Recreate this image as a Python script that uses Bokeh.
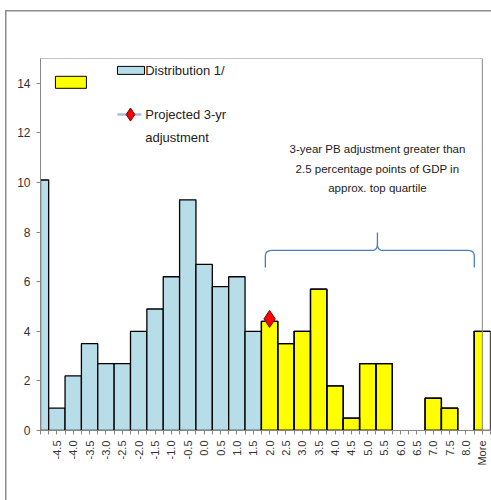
import math
from bokeh.plotting import figure
from bokeh.models import (ColumnDataSource, FixedTicker, Label, Range1d, Span)
from bokeh.embed import file_html
from bokeh.resources import INLINE

# ---------------- data ----------------
categories = ["-5.0", "-4.5", "-4.0", "-3.5", "-3.0", "-2.5", "-2.0", "-1.5", "-1.0",
              "-0.5", "0.0", "0.5", "1.0", "1.5", "2.0", "2.5", "3.0", "3.5", "4.0",
              "4.5", "5.0", "5.5", "6.0", "6.5", "7.0", "7.5", "8.0", "More"]
tick_labels = ["", "-4.5", "-4.0", "-3.5", "-3.0", "-2.5", "-2.0", "-1.5", "-1.0",
               "-0.5", "0.0", "0.5", "1.0", "1.5", "2.0", "2.5", "3.0", "3.5", "4.0",
               "4.5", "5.0", "5.5", "6.0", "6.5", "7.0", "7.5", "8.0", "More"]
distribution = [10.1, 0.9, 2.2, 3.5, 2.7, 2.7, 4.0, 4.9, 6.2, 9.3, 6.7, 5.8, 6.2, 4.0]
top_quartile = [4.4, 3.5, 4.0, 5.7, 1.8, 0.5, 2.7, 2.7, 0.0, 0.0, 1.3, 0.9, 0.0, 4.0]
projected_category = "2.0"
projected_value = 4.5
y_ticks = [0, 2, 4, 6, 8, 10, 12, 14]
note_lines = ["3-year PB adjustment greater than",
              "2.5 percentage points of GDP in",
              "approx. top quartile"]

FONT = "Liberation Sans"
BLUE_FILL = "#B7DDE8"
YELLOW = "#FFFF00"
AXIS_GRAY = "#868686"
BRACE = "#4A7EBB"
BORDER = "#8C8C8C"

n = len(categories)
last = n - 1
blue_idx = list(range(len(distribution)))
yellow_idx = list(range(len(distribution), len(distribution) + len(top_quartile)))

blue_src = ColumnDataSource(dict(x=[i for i, v in zip(blue_idx, distribution) if v > 0],
                                 top=[v for v in distribution if v > 0]))
yel_src = ColumnDataSource(dict(x=[i for i, v in zip(yellow_idx, top_quartile) if v > 0],
                                top=[v for v in top_quartile if v > 0]))

p = figure(width=491, height=500, output_backend="svg", toolbar_location=None,
           x_range=Range1d(0, last + 0.5), y_range=Range1d(0, 15),
           min_border_left=40, min_border_right=1, min_border_top=58, min_border_bottom=70)
p.xgrid.visible = False
p.ygrid.visible = False
p.outline_line_color = None
p.background_fill_color = "white"
p.border_fill_color = None
p.styles = {
    "background": (f"linear-gradient({BORDER},{BORDER}) 5px 10px / 1.5px 100% no-repeat, "
                   f"linear-gradient({BORDER},{BORDER}) 5px 10px / 100% 1.5px no-repeat, white"),
}

p.vbar(x="x", top="top", width=1.0, source=blue_src, fill_color=BLUE_FILL,
       line_color="black", line_width=1.3)
p.vbar(x="x", top="top", width=1.0, source=yel_src, fill_color=YELLOW,
       line_color="black", line_width=1.3)
# part of the last bar beyond the plot-area edge is shown unfilled (as in the original)
p.quad(left=[last], right=[last + 0.5], bottom=[0], top=[top_quartile[-1]],
       fill_color="white", line_color=None)
p.vbar(x="x", top="top", width=1.0, source=yel_src, fill_color=None,
       line_color="black", line_width=1.3)

# plot-area frame (top and right edges)
p.line([0, last], [15, 15], line_color=AXIS_GRAY, line_width=1)
p.add_layout(Span(location=last, dimension="height", line_color=AXIS_GRAY, line_width=1))

# projected adjustment marker
px = categories.index(projected_category)
p.scatter([px], [projected_value], marker="diamond", size=17, fill_color="#FF0000",
          line_color="#7F0000", line_width=1)

# axes
p.yaxis.ticker = FixedTicker(ticks=y_ticks)
p.yaxis.axis_line_color = AXIS_GRAY
p.yaxis.major_tick_line_color = AXIS_GRAY
p.yaxis.major_tick_out = 4
p.yaxis.major_tick_in = 0
p.yaxis.minor_tick_out = 0
p.yaxis.minor_tick_in = 0
p.yaxis.major_label_text_font = FONT
p.yaxis.major_label_text_font_size = "12px"
p.yaxis.major_label_text_color = "#333333"
p.yaxis.major_label_standoff = 6

p.xaxis.ticker = FixedTicker(ticks=list(range(n)),
                             minor_ticks=[i + 0.5 for i in range(-1, n)])
p.xaxis.major_label_overrides = {i: lab for i, lab in enumerate(tick_labels)}
p.xaxis.major_label_orientation = math.pi / 2
p.xaxis.axis_line_color = AXIS_GRAY
p.xaxis.major_tick_line_color = AXIS_GRAY
p.xaxis.minor_tick_line_color = AXIS_GRAY
p.xaxis.major_tick_out = 4
p.xaxis.major_tick_in = 0
p.xaxis.minor_tick_out = 4
p.xaxis.minor_tick_in = 0
p.xaxis.major_label_text_font = FONT
p.xaxis.major_label_text_font_size = "11px"
p.xaxis.major_label_text_color = "#333333"
p.xaxis.major_label_standoff = 6

# brace annotation (data units)
bx0, bxm, bx1 = 13.74, 20.59, 26.51
by_end, by_bar, by_tip = 6.57, 7.26, 7.98
rx, ry = 0.37, 0.24


def quad(p0, c, p1, k=8):
    pts = []
    for j in range(k + 1):
        t = j / k
        pts.append(((1 - t) ** 2 * p0[0] + 2 * (1 - t) * t * c[0] + t * t * p1[0],
                    (1 - t) ** 2 * p0[1] + 2 * (1 - t) * t * c[1] + t * t * p1[1]))
    return pts


path = [(bx0, by_end)]
path += quad((bx0, by_bar - ry), (bx0, by_bar), (bx0 + rx, by_bar))
path += quad((bxm - rx, by_bar), (bxm, by_bar), (bxm, by_bar + ry))
path += [(bxm, by_tip)]
p.line([q[0] for q in path], [q[1] for q in path], line_color=BRACE, line_width=1.3)
path2 = quad((bxm, by_bar + ry), (bxm, by_bar), (bxm + rx, by_bar))
path2 += quad((bx1 - rx, by_bar), (bx1, by_bar), (bx1, by_bar - ry))
path2 += [(bx1, by_end)]
p.line([q[0] for q in path2], [q[1] for q in path2], line_color=BRACE, line_width=1.3)

for line, yy in zip(note_lines, [11.37, 10.56, 9.76]):
    p.add_layout(Label(x=bxm, y=yy, text=line, text_align="center",
                       text_baseline="middle", text_font=FONT, text_font_size="11.5px",
                       text_color="#222222"))

# legend (drawn manually)
p.rect([1.86], [14.04], width=31, height=12, width_units="screen", height_units="screen",
       fill_color=YELLOW, line_color="black", line_width=1)
p.rect([5.53], [14.52], width=27, height=8, width_units="screen", height_units="screen",
       fill_color=BLUE_FILL, line_color="black", line_width=1)
p.line([4.70, 6.17], [12.74, 12.74], line_color="#A6BDDB", line_width=2.5)
p.scatter([5.50], [12.74], marker="diamond", size=13, fill_color="#FF0000",
          line_color="#7F0000", line_width=1)
for txt, yy in [("Distribution 1/", 14.52), ("Projected 3-yr", 12.74), ("adjustment", 11.81)]:
    p.add_layout(Label(x=6.40, y=yy, text=txt, text_align="left", text_baseline="middle",
                       text_font=FONT, text_font_size="13px", text_color="#222222"))

open("out.html", "w").write(file_html(p, INLINE))
